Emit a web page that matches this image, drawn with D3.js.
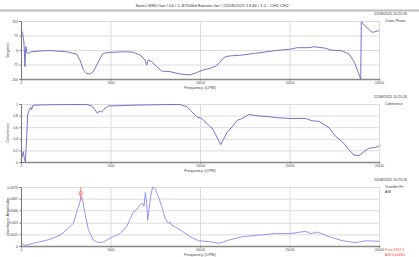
<!DOCTYPE html>
<html>
<head>
<meta charset="utf-8">
<script src="https://cdn.jsdelivr.net/npm/d3@7"></script>
<style>
  body { margin: 0; background: #fff; }
  svg { display: block; font-family: "Liberation Sans", Arial, sans-serif; }
  .tick text { fill: #444; }
  .grid line { stroke: #dcdcdc; }
  .grid path { display: none; }
</style>
</head>
<body>
<div id="chart"></div>
<script>
// values
const titleText = 'Swiss WBO fan / 04 / C-B7006d Booster fan / 22/08/2025 13:46 / 1:2 - CH1 CH2';
const dateText = '22/08/2025 10:25:26';
const freqTicks = [0, 5000, 10000, 15000, 20000];

const phaseTicks = [150, 75, 0, -75, -150];
const phaseLabels = ['150', '75', '0', '-75', '-150'];
const phaseData = [
    [0, 107], [93, 86], [168, 35], [223, -86], [261, 9], [279, 17], [317, -14],
    [428, -17], [596, -9], [1061, -5], [1620, -3], [2551, -9], [3110, -21],
    [3296, -52], [3483, -103], [3669, -121], [3855, -124], [4041, -112],
    [4228, -78], [4414, -43], [4600, -17], [4972, -12], [5904, -9], [6276, -12],
    [6649, -26], [6928, -52], [7021, -78], [7114, -52], [7300, -60], [7580, -86],
    [7859, -109], [8325, -112], [8883, -124], [9442, -129], [9814, -117],
    [10187, -103], [10559, -95], [10876, -83], [11062, -69], [11342, -38],
    [11621, -31], [12366, -26], [13111, -17], [14229, -3], [15066, 5],
    [15438, 12], [16090, 12], [16370, 17], [17023, 9], [17302, 0], [17951, -5],
    [18325, -21], [18605, -60], [18789, -103], [18978, -150], [19012, 146],
    [19258, 121], [19628, 91], [20000, 100]
];

const cohTicks = [1, 0.8, 0.6, 0.4, 0.2, 0];
const cohLabels = ['1', '0,8', '0,6', '0,4', '0,2', '0'];
const cohData = [
    [0, 0.03], [56, 0.09], [130, 0.18], [186, 0.06], [242, 0.005], [317, 0.41],
    [372, 0.81], [466, 0.9], [540, 0.94], [596, 0.9], [652, 0.97], [782, 0.98],
    [1247, 0.985], [2551, 0.99], [3669, 0.99], [3948, 0.97], [4134, 0.9],
    [4264, 0.84], [4376, 0.88], [4507, 0.86], [4637, 0.91], [4879, 0.965],
    [6276, 0.98], [8139, 0.99], [8883, 0.99], [9256, 0.955], [9535, 0.87],
    [9814, 0.78], [10093, 0.75], [10373, 0.67], [10559, 0.61], [10689, 0.58],
    [10876, 0.47], [11155, 0.30], [11342, 0.41], [11528, 0.52], [11807, 0.61],
    [12087, 0.72], [12366, 0.75], [12738, 0.82], [13111, 0.80], [13856, 0.78],
    [14415, 0.76], [15066, 0.75], [15904, 0.75], [16277, 0.71], [16649, 0.70],
    [17208, 0.59], [17582, 0.44], [17953, 0.35], [18325, 0.21], [18605, 0.12],
    [18884, 0.11], [19163, 0.18], [19442, 0.24], [19814, 0.25], [20000, 0.28]
];

const ampTicks = [0.0076, 0.0061, 0.0046, 0.003, 0.0015, 0];
const ampLabels = ['0,0076', '0,0061', '0,0046', '0,003', '0,0015', '0'];
const ampData = [
    [0, 0.00034], [93, 0.00026], [223, 0.00009], [689, 0.00034], [1620, 0.00086],
    [2179, 0.0014], [2551, 0.0021], [2924, 0.0029], [3147, 0.0046], [3296, 0.0057],
    [3371, 0.0064], [3446, 0.0059], [3576, 0.0042], [3762, 0.0021], [4041, 0.00077],
    [4321, 0.00043], [4600, 0.0005], [4972, 0.001], [5531, 0.0016], [5904, 0.0025],
    [6276, 0.0044], [6463, 0.0047], [6649, 0.0053], [6798, 0.0055], [6872, 0.0051],
    [6947, 0.0069], [7021, 0.0055], [7077, 0.0033], [7151, 0.0046], [7245, 0.0064],
    [7356, 0.0076], [7487, 0.0074], [7672, 0.0064], [7859, 0.0051], [8045, 0.0036],
    [8231, 0.0029], [8325, 0.0031], [8418, 0.0027], [8883, 0.0021], [9442, 0.0012],
    [9907, 0.00068], [10559, 0.00055], [11062, 0.00034], [11621, 0.00077],
    [12366, 0.0012], [13297, 0.0014], [14229, 0.0016], [15066, 0.0016],
    [15904, 0.0019], [16184, 0.0016], [16556, 0.0018], [17208, 0.0012],
    [17951, 0.00068], [18696, 0.00043], [19258, 0.00068], [20000, 0.0006]
];

const cursorFreq = 3337.5;
const cursorAmp = 0.0068;

const w = 419;
const h = 257;
const left = 21;
const right = 379;

const svg = d3.select('#chart')
    .append('svg')
    .attr('width', w)
    .attr('height', h);

// title + separator bar
svg.append('text')
    .attr('x', 212)
    .attr('y', 6.5)
    .attr('text-anchor', 'middle')
    .attr('font-size', 4.3)
    .attr('fill', '#333')
    .text(titleText);

svg.append('rect')
    .attr('x', 0).attr('y', 9.5)
    .attr('width', w).attr('height', 2)
    .attr('fill', '#bdbdbd');

const xScale = d3.scaleLinear()
    .domain([0, 20000])
    .range([left, right]);

function drawPanel(p) {
    const yScale = d3.scaleLinear()
        .domain(p.domain)
        .range([p.bottom, p.top]);

    const g = svg.append('g');

    // grid
    g.append('g')
        .attr('class', 'grid')
        .attr('transform', 'translate(' + left + ', 0)')
        .call(d3.axisLeft(yScale).tickValues(p.ticks).tickSize(-(right - left)).tickFormat(''));

    g.append('g')
        .attr('class', 'grid')
        .attr('transform', 'translate(0, ' + p.bottom + ')')
        .call(d3.axisBottom(xScale).tickValues(freqTicks.slice(1)).tickSize(-(p.bottom - p.top)).tickFormat(''));

    // data line
    const line = d3.line()
        .x((d) => xScale(d[0]))
        .y((d) => yScale(Math.max(p.domain[0], Math.min(p.domain[1], d[1]))));

    g.append('path')
        .datum(p.data)
        .attr('fill', 'none')
        .attr('stroke', p.color)
        .attr('stroke-width', 0.9)
        .attr('d', line);

    // axes
    const yAxis = g.append('g')
        .attr('transform', 'translate(' + left + ', 0)')
        .call(d3.axisLeft(yScale).tickValues(p.ticks).tickSize(1.5).tickPadding(1.5)
            .tickFormat((d, i) => p.labels[i]));
    yAxis.select('.domain').attr('stroke', '#777');
    yAxis.selectAll('.tick line').attr('stroke', '#777');
    yAxis.selectAll('text').attr('font-size', 3.5);

    const xAxis = g.append('g')
        .attr('transform', 'translate(0, ' + p.bottom + ')')
        .call(d3.axisBottom(xScale).tickValues(freqTicks).tickSize(1.5).tickPadding(1));
    xAxis.select('.domain').attr('stroke', '#888').attr('stroke-width', 1.4);
    xAxis.selectAll('.tick line').attr('stroke', '#777');
    xAxis.selectAll('text').attr('font-size', 3.2).text((d) => d);

    // axis titles
    g.append('text')
        .attr('transform', 'translate(9, ' + (p.top + p.bottom) / 2 + ') rotate(-90)')
        .attr('text-anchor', 'middle')
        .attr('font-size', 4)
        .attr('fill', '#444')
        .text(p.yTitle);

    g.append('text')
        .attr('x', xScale(10000))
        .attr('y', p.bottom + 10)
        .attr('text-anchor', 'middle')
        .attr('font-size', 4)
        .attr('fill', '#444')
        .text('Frequency (CPM)');

    // side notes
    g.append('text')
        .attr('x', 374)
        .attr('y', p.top - 6)
        .attr('font-size', 3.6)
        .attr('fill', '#333')
        .text(dateText);

    p.names.forEach((n, i) => {
        g.append('text')
            .attr('x', 385)
            .attr('y', p.top + 0.5 + i * 5)
            .attr('font-size', 3.6)
            .attr('fill', '#333')
            .text(n);
    });

    return yScale;
}

drawPanel({
    top: 21, bottom: 79, domain: [-150, 150],
    ticks: phaseTicks, labels: phaseLabels, data: phaseData,
    color: '#6464c4', yTitle: 'Degrees', names: ['Cross Phase']
});

drawPanel({
    top: 104, bottom: 162, domain: [0, 1],
    ticks: cohTicks, labels: cohLabels, data: cohData,
    color: '#6464c4', yTitle: 'Coherence', names: ['Coherence']
});

const ampScale = drawPanel({
    top: 187, bottom: 246, domain: [0, 0.0076],
    ticks: ampTicks, labels: ampLabels, data: ampData,
    color: '#8a8af0', yTitle: 'Inertance Amplitude', names: ['Transfer Fn', 'A/B']
});

// cursor marker
const cx = xScale(cursorFreq);
const cy = ampScale(cursorAmp);
svg.append('line')
    .attr('x1', cx).attr('x2', cx)
    .attr('y1', cy - 6).attr('y2', cy + 8)
    .attr('stroke', '#f07070')
    .attr('stroke-width', 0.9);
svg.append('rect')
    .attr('x', cx - 1.5).attr('y', cy - 1.5)
    .attr('width', 3).attr('height', 3)
    .attr('fill', 'none')
    .attr('stroke', '#f07070')
    .attr('stroke-width', 0.7);

svg.append('text')
    .attr('x', 385).attr('y', 251)
    .attr('font-size', 3.6)
    .attr('fill', '#f04848')
    .text('Freq ' + cursorFreq);
svg.append('text')
    .attr('x', 385).attr('y', 256)
    .attr('font-size', 3.6)
    .attr('fill', '#f04848')
    .text('A/B ' + d3.format('.5f')(cursorAmp).replace('.', ','));
</script>
</body>
</html>
